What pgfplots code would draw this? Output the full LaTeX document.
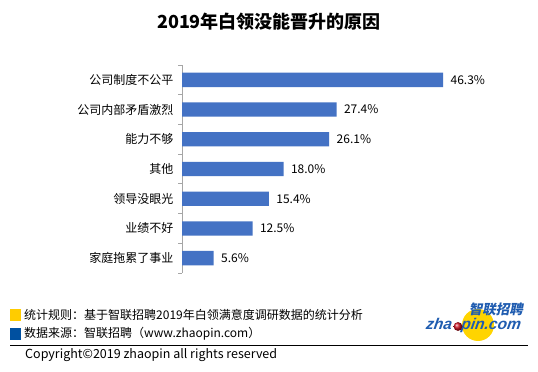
\documentclass[border=0pt]{standalone}
\usepackage{fontspec}
\setmainfont{Noto Sans CJK SC}
\newfontfamily\logofont{Liberation Sans}
\usepackage{pgfplots}
\pgfplotsset{compat=1.18}
\definecolor{barblue}{HTML}{4472C4}
\definecolor{axisgray}{HTML}{A6A6A6}
\definecolor{sqyellow}{HTML}{FFCC00}
\definecolor{sqblue}{HTML}{0050A0}
\definecolor{logoblue}{HTML}{1F5CB0}
\definecolor{logoyellow}{HTML}{FFD400}
\definecolor{logored}{HTML}{D01020}
\begin{document}
\begin{tikzpicture}[x=1pt,y=1pt]
\useasboundingbox[fill=white] (0,0) rectangle (538,372);
\node[font=\fontsize{18}{20}\selectfont\bfseries] at (269,350) {2019年白领没能晋升的原因};
\begin{axis}[
  at={(182pt,99pt)}, anchor=south west,
  scale only axis, width=282pt, height=208pt,
  xbar, bar width=14.3pt,
  xmin=0, xmax=50, ymin=-0.5, ymax=6.5,
  axis x line=none, axis y line*=left,
  y axis line style={draw=axisgray, line width=0.8pt},
  ytick={0,...,6},
  yticklabels={家庭拖累了事业,业绩不好,领导没眼光,其他,能力不够,公司内部矛盾激烈,公司制度不公平},
  major tick length=0pt,
  minor ytick={-0.5,0.5,...,6.5},
  minor tick length=4pt,
  tick align=outside,
  every minor tick/.style={draw=axisgray, line width=0.8pt},
  yticklabel style={font=\fontsize{12}{14}\selectfont, xshift=-5pt},
  point meta=x,
  nodes near coords={\pgfmathprintnumber[fixed,fixed zerofill,precision=1,assume math mode=true]{\pgfplotspointmeta}\%},
  nodes near coords style={font=\fontsize{12}{14}\selectfont, anchor=west, xshift=4pt},
  clip=false,
]
\addplot[fill=barblue, draw=none] coordinates {
  (5.6,0) (12.5,1) (15.4,2) (18.0,3) (26.1,4) (27.4,5) (46.3,6)
};
\end{axis}
% footer
\fill[sqyellow] (9.6,51) rectangle (21,63);
\fill[sqblue] (9.6,32) rectangle (21,44);
\node[anchor=west, inner sep=0pt, font=\fontsize{12}{14}\selectfont] at (24,57) {统计规则：基于智联招聘2019年白领满意度调研数据的统计分析};
\node[anchor=west, inner sep=0pt, font=\fontsize{12}{14}\selectfont] at (24,38) {数据来源：智联招聘（www.zhaopin.com）};
\draw[black, line width=0.9pt] (10,26.3) -- (528,26.3);
\node[anchor=west, inner sep=0pt, font=\fontsize{12.5}{14}\selectfont] at (25,17.4) {Copyright©2019 zhaopin all rights reserved};
% logo
\fill[logoyellow] (478,47) circle (16);
\node[anchor=east, inner sep=0pt, xslant=0.2, text=logoblue, font=\fontsize{13.5}{15}\selectfont\bfseries] at (524,63) {智联招聘};
\node[anchor=west, inner sep=0pt, xslant=0.15, text=logoblue, font=\logofont\fontsize{15.5}{17}\selectfont\bfseries\itshape] at (426,47) {zha\phantom{o}pin.com};
\shade[ball color=logored] (458,45.5) circle (4.4);
\end{tikzpicture}
\end{document}
